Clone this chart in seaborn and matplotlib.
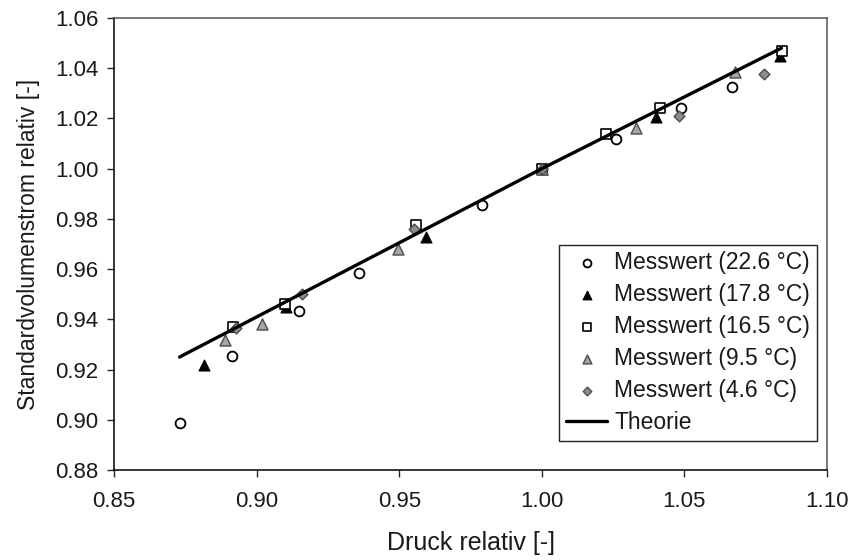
import matplotlib
matplotlib.use("Agg")
import matplotlib.pyplot as plt
import seaborn as sns
import pandas as pd

# --- data ---
x_226 = [0.873, 0.8915, 0.915, 0.936, 0.979, 1.000, 1.026, 1.0487, 1.0666]
y_226 = [0.8988, 0.9253, 0.9434, 0.9585, 0.9855, 1.000, 1.0118, 1.024, 1.0324]

x_178 = [0.8816, 0.9103, 0.9594, 1.000, 1.040, 1.0835]
y_178 = [0.9218, 0.9450, 0.9729, 1.000, 1.0204, 1.0449]

x_165 = [0.8918, 0.9100, 0.9559, 1.000, 1.0225, 1.0414, 1.0841]
y_165 = [0.9370, 0.9463, 0.9775, 1.000, 1.0138, 1.0240, 1.0470]

x_95 = [0.8889, 0.9018, 0.9497, 1.000, 1.0330, 1.0677]
y_95 = [0.9317, 0.9381, 0.9682, 1.000, 1.0163, 1.0386]

x_46 = [0.8928, 0.9158, 0.9553, 1.000, 1.0482, 1.0779]
y_46 = [0.9365, 0.9499, 0.9758, 1.000, 1.0210, 1.0376]

x_theo = [0.873, 1.000, 1.084]
y_theo = [0.925, 1.000, 1.048]

labels = ["Messwert (22.6 °C)", "Messwert (17.8 °C)", "Messwert (16.5 °C)",
          "Messwert (9.5 °C)", "Messwert (4.6 °C)", "Theorie"]

x_ticks = [0.85, 0.90, 0.95, 1.00, 1.05, 1.10]
y_ticks = [0.88, 0.90, 0.92, 0.94, 0.96, 0.98, 1.00, 1.02, 1.04, 1.06]

sns.set_theme(style="white")
plt.rcParams['font.family'] = ['Liberation Sans', 'DejaVu Sans']

fig = plt.figure(figsize=(8.5, 5.6), dpi=100)
ax = fig.add_axes([114/850, 1-470/560, (827-114)/850, (470-18)/560])

def df(x, y):
    return pd.DataFrame({"x": x, "y": y})

sns.scatterplot(data=df(x_226, y_226), x="x", y="y", ax=ax, marker="o", s=50,
                color="white", edgecolor="black", linewidth=1.3, label=labels[0], zorder=3)
sns.scatterplot(data=df(x_178, y_178), x="x", y="y", ax=ax, marker="^", s=62,
                color="black", edgecolor="black", linewidth=0.8, label=labels[1], zorder=3)
sns.scatterplot(data=df(x_165, y_165), x="x", y="y", ax=ax, marker="s", s=62,
                color="white", edgecolor="black", linewidth=1.2, label=labels[2], zorder=3)
sns.scatterplot(data=df(x_95, y_95), x="x", y="y", ax=ax, marker="^", s=62,
                color="#a6a6a6", edgecolor="#555555", linewidth=1.1, label=labels[3], zorder=3)
sns.scatterplot(data=df(x_46, y_46), x="x", y="y", ax=ax, marker="D", s=30,
                color="#8c8c8c", edgecolor="#4d4d4d", linewidth=1.0, label=labels[4], zorder=3)
sns.lineplot(data=df(x_theo, y_theo), x="x", y="y", ax=ax, color="black",
             linewidth=2.4, label=labels[5], zorder=4, sort=True)

ax.set_xlim(0.85, 1.10)
ax.set_ylim(0.88, 1.06)
ax.set_xticks(x_ticks)
ax.set_xticklabels([f"{v:.2f}" for v in x_ticks])
ax.set_yticks(y_ticks)
ax.set_yticklabels([f"{v:.2f}" for v in y_ticks])

ax.set_xlabel("Druck relativ [-]", fontsize=18, color="#1a1a1a", labelpad=14)
ax.set_ylabel("Standardvolumenstrom relativ [-]", fontsize=16.5, color="#1a1a1a", labelpad=11)

ax.tick_params(axis="x", which="major", direction="out", length=5, width=1,
               labelsize=16, labelcolor="#1a1a1a", bottom=True, top=False, pad=10)
ax.tick_params(axis="y", which="major", direction="out", length=5, width=1,
               labelsize=16, labelcolor="#1a1a1a", left=True, right=False, pad=6)

for side in ["left", "bottom"]:
    ax.spines[side].set_color("black")
    ax.spines[side].set_linewidth(1.1)
for side in ["top", "right"]:
    ax.spines[side].set_color("#555555")
    ax.spines[side].set_linewidth(1.1)

leg = ax.legend(loc="lower right", bbox_to_anchor=(817/850, 1-441/560),
                bbox_transform=fig.transFigure, frameon=True, fancybox=False,
                edgecolor="#222222", fontsize=16.5, handlelength=1.8, handletextpad=0.3,
                borderpad=0.3, labelspacing=0.39, borderaxespad=0, markerscale=0.8)
leg.get_frame().set_linewidth(1.0)
leg.get_frame().set_alpha(1)
for t in leg.get_texts():
    t.set_color("#1a1a1a")

fig.savefig("out.png", dpi=100)
